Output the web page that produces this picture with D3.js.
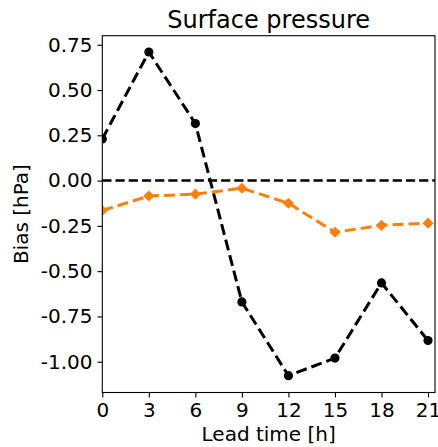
<!DOCTYPE html>
<html>
<head>
<meta charset="utf-8">
<script src="https://cdn.jsdelivr.net/npm/d3@7"></script>
<style>
  html, body { margin: 0; padding: 0; background: #fff; }
  svg { display: block; font-family: "DejaVu Sans", sans-serif; }
</style>
</head>
<body>
<svg id="chart" width="438" height="447"></svg>
<script>
// Data
const leadTimes = [0, 3, 6, 9, 12, 15, 18, 21];
const seriesBlack = [0.23, 0.71, 0.315, -0.67, -1.077, -0.98, -0.565, -0.883];
const seriesOrange = [-0.165, -0.085, -0.075, -0.042, -0.125, -0.285, -0.247, -0.235];
const xTicks = [0, 3, 6, 9, 12, 15, 18, 21];
const yTicks = [0.75, 0.5, 0.25, 0, -0.25, -0.5, -0.75, -1.0];
const titleText = "Surface pressure";
const xLabel = "Lead time [h]";
const yLabel = "Bias [hPa]";

const W = 438, H = 447;
const m = { left: 102.3, top: 35.7, right: 435, bottom: 392.5 };

const svg = d3.select("#chart");

const x = d3.scaleLinear().domain([0, 21.45]).range([m.left, m.right]);
const y = d3.scaleLinear().domain([-1.17, 0.80]).range([m.bottom, m.top]);

svg.append("defs").append("clipPath").attr("id", "plotclip")
  .append("rect")
  .attr("x", m.left).attr("y", m.top)
  .attr("width", m.right - m.left).attr("height", m.bottom - m.top);

const plot = svg.append("g").attr("clip-path", "url(#plotclip)");

// zero line
plot.append("line")
  .attr("x1", m.left).attr("x2", m.right)
  .attr("y1", y(0)).attr("y2", y(0))
  .attr("stroke", "#000").attr("stroke-width", 2.5)
  .attr("stroke-dasharray", "9.2,4");

const line = d3.line().x((d, i) => x(leadTimes[i])).y(d => y(d));

// black series
plot.append("path").datum(seriesBlack)
  .attr("d", line).attr("fill", "none")
  .attr("stroke", "#000").attr("stroke-width", 3)
  .attr("stroke-dasharray", "11,5");
plot.selectAll("circle.b").data(seriesBlack).enter().append("circle")
  .attr("class", "b")
  .attr("cx", (d, i) => x(leadTimes[i])).attr("cy", d => y(d))
  .attr("r", 4.6).attr("fill", "#000");

// orange series
const orange = "#ff7f0e";
plot.append("path").datum(seriesOrange)
  .attr("d", line).attr("fill", "none")
  .attr("stroke", orange).attr("stroke-width", 3)
  .attr("stroke-dasharray", "11,5");
const dsym = d3.symbol().type(d3.symbolSquare).size(62);
plot.selectAll("path.o").data(seriesOrange).enter().append("path")
  .attr("class", "o")
  .attr("d", dsym)
  .attr("transform", (d, i) => `translate(${x(leadTimes[i])},${y(d)}) rotate(45)`)
  .attr("fill", orange);

// axes
const fs = 20;
const xAxis = d3.axisBottom(x).tickValues(xTicks).tickFormat(d3.format("d"))
  .tickSizeInner(4.9).tickSizeOuter(0).tickPadding(4.9);
const gx = svg.append("g").attr("transform", `translate(0,${m.bottom})`).call(xAxis);
gx.select(".domain").remove();
gx.selectAll(".tick line").attr("stroke", "#000").attr("stroke-width", 1.1);
gx.selectAll(".tick text").attr("font-size", fs).attr("fill", "#000")
  .attr("font-family", "DejaVu Sans").attr("dy", null).attr("y", 24.8);

const yAxis = d3.axisLeft(y).tickValues(yTicks).tickFormat(d3.format(".2f"))
  .tickSizeInner(4.9).tickSizeOuter(0).tickPadding(4.9);
const gy = svg.append("g").attr("transform", `translate(${m.left},0)`).call(yAxis);
gy.select(".domain").remove();
gy.selectAll(".tick line").attr("stroke", "#000").attr("stroke-width", 1.1);
gy.selectAll(".tick text").attr("font-size", fs).attr("fill", "#000")
  .attr("font-family", "DejaVu Sans").text(d => d3.format(".2f")(d).replace("−", "-"));

// frame
svg.append("rect")
  .attr("x", m.left).attr("y", m.top)
  .attr("width", m.right - m.left).attr("height", m.bottom - m.top)
  .attr("fill", "none").attr("stroke", "#000").attr("stroke-width", 1.1);

// title & labels
svg.append("text").attr("x", (m.left + m.right) / 2).attr("y", 28.3)
  .attr("text-anchor", "middle").attr("font-size", 24).attr("fill", "#000")
  .text(titleText);
svg.append("text").attr("x", (m.left + m.right) / 2).attr("y", 441.3)
  .attr("text-anchor", "middle").attr("font-size", fs).attr("fill", "#000")
  .text(xLabel);
svg.append("text")
  .attr("transform", `translate(28,${(m.top + m.bottom) / 2}) rotate(-90)`)
  .attr("text-anchor", "middle").attr("font-size", fs).attr("fill", "#000")
  .text(yLabel);
</script>
</body>
</html>
